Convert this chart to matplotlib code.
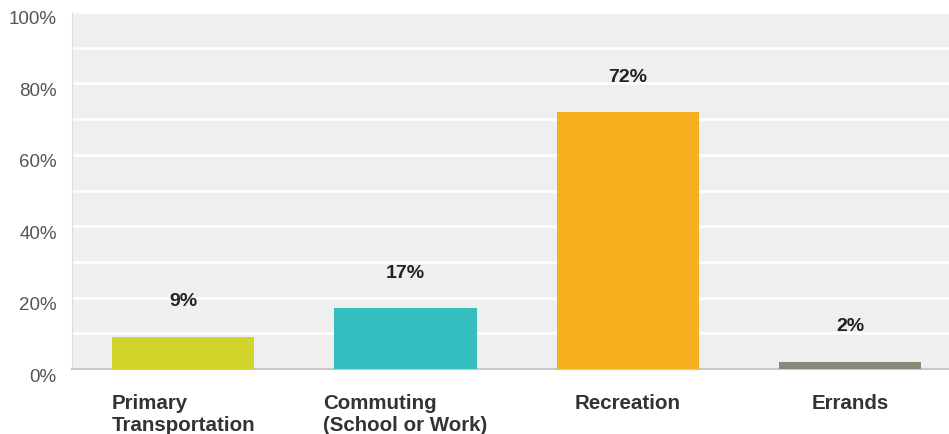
import matplotlib.pyplot as plt
from matplotlib.ticker import MultipleLocator, FuncFormatter
from matplotlib.transforms import ScaledTranslation

categories = ["Primary\nTransportation", "Commuting\n(School or Work)", "Recreation", "Errands"]
shares = [9, 17, 72, 2]
colors = ["#d1d42a", "#35bec0", "#f6b01f", "#898b78"]

plt.rcParams['font.family'] = ['Liberation Sans', 'DejaVu Sans']

W, H = 949, 434
fig = plt.figure(figsize=(W / 100, H / 100), dpi=100)
ax = fig.add_axes([72 / W, (H - 369) / H, (W - 72) / W, (369 - 12) / H])
ax.set_facecolor("#efefef")

x = range(len(categories))
ax.bar(x, shares, width=0.64, color=colors, zorder=3)

for i, v in enumerate(shares):
    ax.annotate(f"{v}%", (i, v), xytext=(0, 19), textcoords="offset points",
                ha="center", va="bottom", fontsize=14, fontweight="bold", color="#222222")

ax.set_ylim(0, 100)
ax.set_xlim(-0.5, 3.445)
ax.yaxis.set_major_locator(MultipleLocator(20))
ax.yaxis.set_minor_locator(MultipleLocator(10))
ax.yaxis.set_major_formatter(FuncFormatter(lambda v, p: f"{v:.0f}%"))
ax.grid(axis="y", which="both", color="white", linewidth=1.8, zorder=1)
ax.set_axisbelow(True)

ax.set_xticks(list(x))
ax.set_xticklabels(categories, fontsize=14.8, fontweight="bold", color="#333333",
                   multialignment="left", linespacing=1.2)
ax.tick_params(axis="x", length=0, pad=18)
ax.tick_params(axis="y", which="both", length=0, pad=11, labelsize=13.5, labelcolor="#555555")
shift = ScaledTranslation(0, -6 / 100, fig.dpi_scale_trans)
for lbl in ax.get_yticklabels():
    lbl.set_transform(lbl.get_transform() + shift)

for side in ["top", "right"]:
    ax.spines[side].set_visible(False)
ax.spines["left"].set_color("#dddddd")
ax.spines["bottom"].set_color("#c8c8c8")
ax.spines["bottom"].set_linewidth(1.5)

fig.savefig("out.png", dpi=100)
